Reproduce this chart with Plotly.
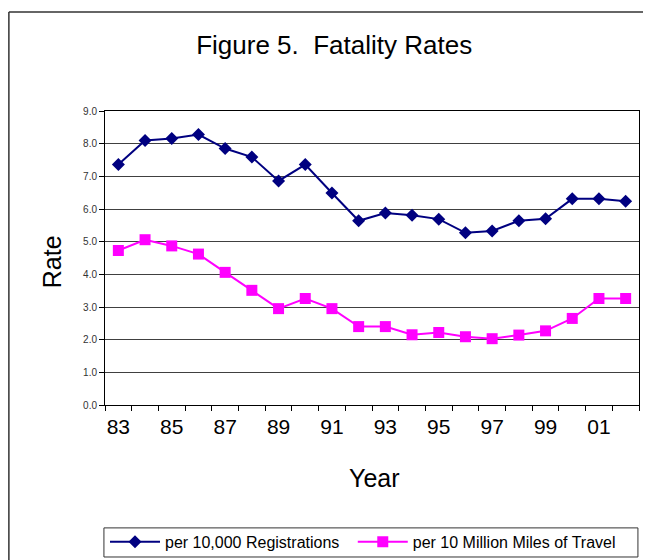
import plotly.graph_objects as go

years = list(range(1983, 2003))
per_registrations = [7.36, 8.10, 8.16, 8.28, 7.85, 7.59, 6.86, 7.36, 6.49, 5.64,
                     5.88, 5.81, 5.69, 5.27, 5.33, 5.64, 5.70, 6.31, 6.31, 6.24]
per_miles = [4.73, 5.06, 4.87, 4.62, 4.06, 3.51, 2.95, 3.26, 2.95, 2.40,
             2.40, 2.15, 2.22, 2.09, 2.03, 2.14, 2.27, 2.65, 3.26, 3.26]
label_years = years[::2]
year_labels = ["83", "85", "87", "89", "91", "93", "95", "97", "99", "01"]
boundaries = [y - 0.5 for y in years] + [years[-1] + 0.5]

font = "Arial, Liberation Sans, sans-serif"

fig = go.Figure()
fig.add_trace(go.Scatter(
    x=years, y=per_registrations, name="per 10,000 Registrations",
    mode="lines+markers", legend="legend",
    line=dict(color="#000080", width=2),
    marker=dict(symbol="diamond", size=10, color="#000080"),
))
fig.add_trace(go.Scatter(
    x=years, y=per_miles, name="per 10 Million Miles of Travel",
    mode="lines+markers", legend="legend2",
    line=dict(color="#FF00FF", width=2),
    marker=dict(symbol="square", size=11, color="#FF00FF"),
))

legend_style = dict(orientation="h", xanchor="left", y=-0.408, yanchor="top",
                    borderwidth=0, font=dict(size=16), itemwidth=50,
                    bgcolor="rgba(0,0,0,0)")

# page has an 8px body margin, so margins are shifted by 8
fig.update_layout(
    width=651, height=560,
    margin=dict(l=97, r=20, t=103, b=163, autoexpand=False),
    paper_bgcolor="white", plot_bgcolor="white",
    font=dict(family=font, color="black"),
    title=dict(text="Figure 5.\u00a0 Fatality Rates", font=dict(size=26, color="black"),
               xref="container", x=0.501, xanchor="center",
               yref="container", y=1 - 37 / 560, yanchor="middle"),
    showlegend=True,
    legend=dict(x=0, **legend_style),
    legend2=dict(x=0.464, **legend_style),
)

fig.update_xaxes(
    range=[years[0] - 0.5, years[-1] + 0.5],
    tickmode="array", tickvals=label_years, ticktext=year_labels,
    ticks="", tickfont=dict(size=21), ticklabelstandoff=3,
    showgrid=False, zeroline=False,
    showline=True, linecolor="black", linewidth=1, mirror=True,
    minor=dict(tickmode="array", tickvals=boundaries, ticks="outside",
               ticklen=5, tickcolor="black", showgrid=False),
)
fig.update_yaxes(
    range=[0, 9], dtick=1, tickformat=".1f",
    ticks="outside", ticklen=5, tickcolor="black",
    tickfont=dict(size=10, color="#333"),
    showgrid=True, gridcolor="#404040", gridwidth=1, zeroline=False,
    showline=True, linecolor="black", linewidth=1, mirror=True,
)

fig.add_annotation(text="Rate", xref="paper", yref="paper", x=-0.099, y=0.486,
                   textangle=-90, showarrow=False, font=dict(size=25),
                   xanchor="center", yanchor="middle")
fig.add_annotation(text="Year", xref="paper", yref="paper", x=0.504, y=-0.248,
                   showarrow=False, font=dict(size=25),
                   xanchor="center", yanchor="middle")

# legend box
fig.add_shape(type="rect", xref="paper", yref="paper",
              x0=-0.002, x1=0.998, y0=-0.418, y1=-0.517,
              line=dict(color="#333", width=1))

# outer chart frame (left and top edges visible)
fig.add_shape(type="line", xref="paper", yref="paper",
              x0=-0.18, x1=-0.18, y0=(405 - 12) / 294, y1=-0.6,
              line=dict(color="#333", width=1.5))
fig.add_shape(type="line", xref="paper", yref="paper",
              x0=-0.18, x1=1.1, y0=(405 - 12) / 294, y1=(405 - 12) / 294,
              line=dict(color="#333", width=1.5))

fig.write_html("out.html")
